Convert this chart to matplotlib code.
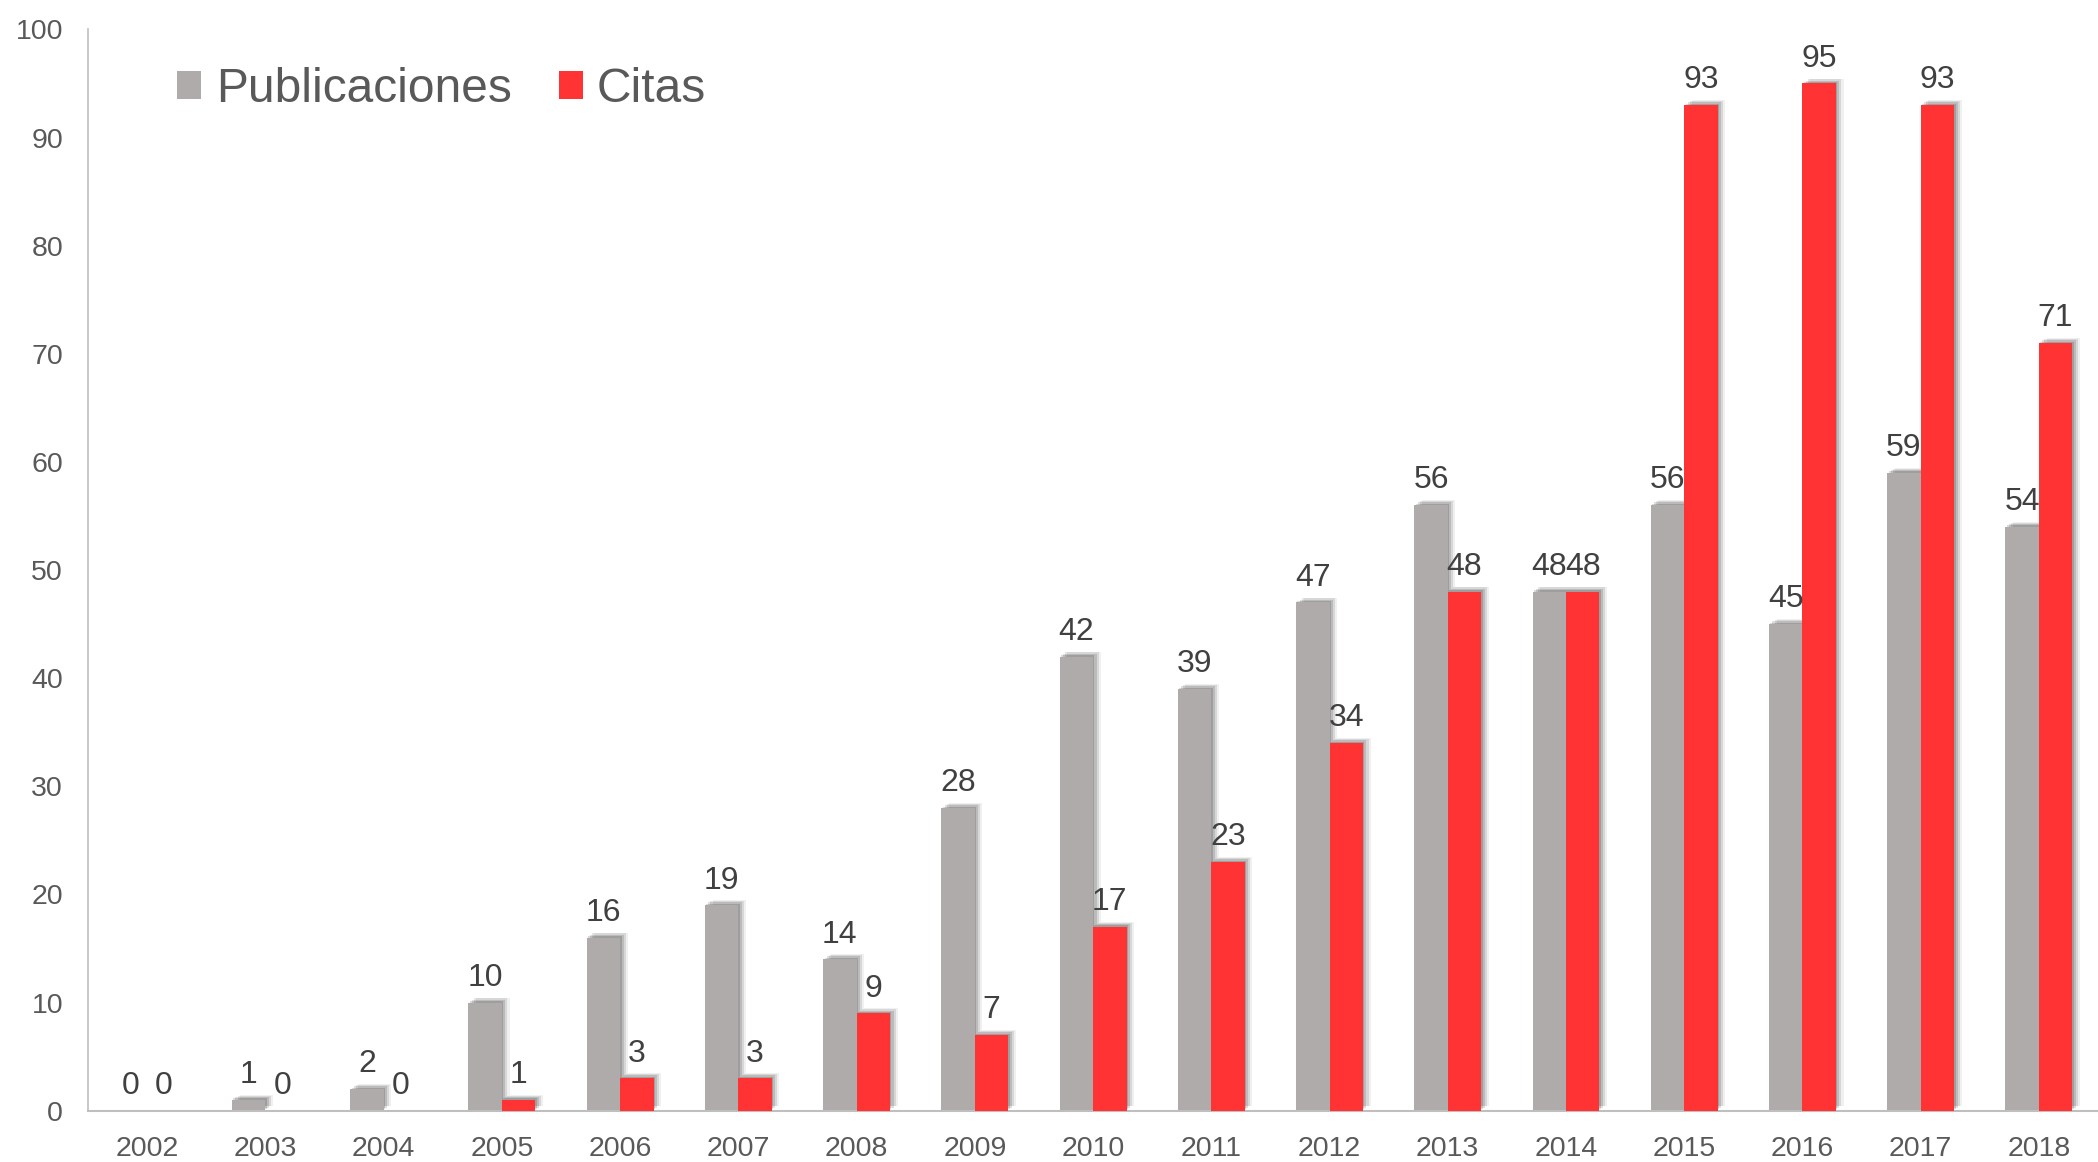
import numpy as np
import matplotlib.pyplot as plt
import matplotlib.patheffects as pe

plt.rcParams["font.family"] = ["Liberation Sans", "DejaVu Sans"]

# datos
years = ["2002", "2003", "2004", "2005", "2006", "2007", "2008", "2009", "2010",
         "2011", "2012", "2013", "2014", "2015", "2016", "2017", "2018"]
publicaciones = [0, 1, 2, 10, 16, 19, 14, 28, 42, 39, 47, 56, 48, 56, 45, 59, 54]
citas = [0, 0, 0, 1, 3, 3, 9, 7, 17, 23, 34, 48, 48, 93, 95, 93, 71]

gris = "#AEABAA"
rojo = "#FF3334"
texto = "#404040"
ejes = "#595959"

fig = plt.figure(figsize=(20.98, 11.62), dpi=100)
ax = fig.add_axes([0.042, 0.0442, 0.958, 0.9305])

x = np.arange(len(years))
w = 0.283

# sombra difusa aproximada
sombra = [
    pe.SimplePatchShadow(offset=(1.0, 1.0), shadow_rgbFace="black", alpha=0.15),
    pe.SimplePatchShadow(offset=(2.5, 2.0), shadow_rgbFace="black", alpha=0.13),
    pe.SimplePatchShadow(offset=(4.0, 3.0), shadow_rgbFace="black", alpha=0.10),
    pe.SimplePatchShadow(offset=(5.5, 3.5), shadow_rgbFace="black", alpha=0.06),
    pe.Normal(),
]

b1 = ax.bar(x - w / 2, publicaciones, w, color=gris, label="Publicaciones", zorder=2)
b2 = ax.bar(x + w / 2, citas, w, color=rojo, label="Citas", zorder=3)
for r in list(b1) + list(b2):
    if r.get_height() > 0:
        r.set_path_effects(sombra)

for xi, v in zip(x - w / 2, publicaciones):
    ax.annotate(str(v), (xi, v), xytext=(0, 12), textcoords="offset points",
                ha="center", va="baseline", fontsize=23, color=texto, zorder=5)
for xi, v in zip(x + w / 2, citas):
    ax.annotate(str(v), (xi, v), xytext=(0, 12), textcoords="offset points",
                ha="center", va="baseline", fontsize=23, color=texto, zorder=5)

ax.set_xlim(-0.5, len(years) - 0.5)
ax.set_ylim(0, 100)
ax.set_yticks(range(0, 101, 10))
ax.set_xticks(x)
ax.set_xticklabels(years)
ax.tick_params(axis="both", length=0, labelsize=20.5, labelcolor=ejes)
ax.tick_params(axis="x", pad=18)
ax.tick_params(axis="y", pad=18)

for s in ["top", "right"]:
    ax.spines[s].set_visible(False)
ax.spines["left"].set_color("#BFBFBF")
ax.spines["bottom"].set_color("#BFBFBF")
ax.spines["left"].set_linewidth(1.2)
ax.spines["bottom"].set_linewidth(1.5)

leg = ax.legend(loc="upper left", bbox_to_anchor=(0.023, 1.005), ncol=2, frameon=False,
                fontsize=34.5, handlelength=0.5, handleheight=0.5, handletextpad=0.3,
                columnspacing=0.98, labelcolor=ejes)

fig.savefig("out.png", dpi=100)
